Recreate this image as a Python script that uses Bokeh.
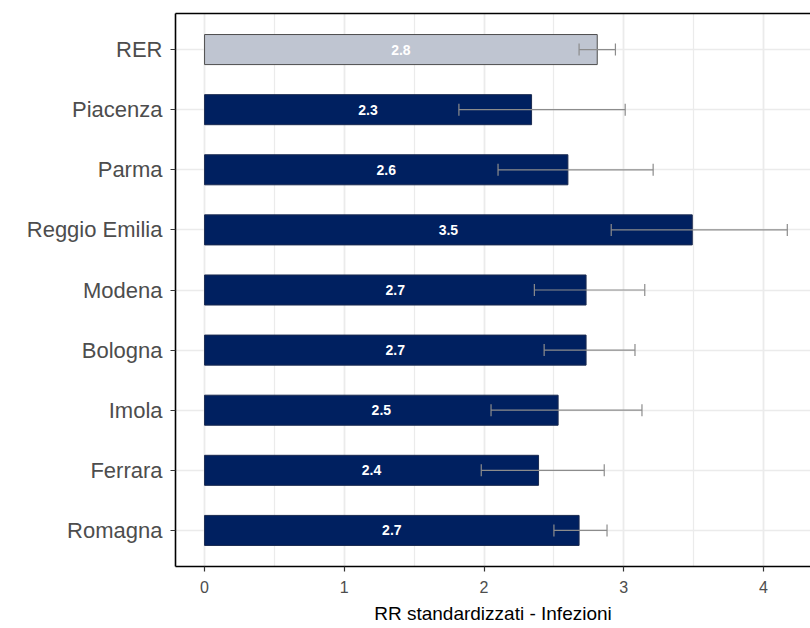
from bokeh.plotting import figure
from bokeh.models import (Range1d, FixedTicker, SingleIntervalTicker, LinearAxis,
                          ColumnDataSource)
from bokeh.embed import file_html
from bokeh.resources import INLINE

# ---- data ----
categories = ["RER", "Piacenza", "Parma", "Reggio Emilia", "Modena",
              "Bologna", "Imola", "Ferrara", "Romagna"]
rr = [2.81, 2.34, 2.60, 3.49, 2.73, 2.73, 2.53, 2.39, 2.68]
ci_low = [2.68, 1.82, 2.10, 2.91, 2.36, 2.43, 2.05, 1.98, 2.50]
ci_high = [2.94, 3.01, 3.21, 4.17, 3.15, 3.08, 3.13, 2.86, 2.88]
x_ticks = [0, 1, 2, 3, 4]
x_title = "RR standardizzati - Infezioni"

n = len(categories)
ys = [n - i for i in range(n)]
fills = ["#bfc5d1" if c == "RER" else "#002060" for c in categories]
lines = ["#4d4d4d" if c == "RER" else "#1a2a50" for c in categories]
labels = [f"{v:.1f}" for v in rr]
mids = [v / 2 for v in rr]

src = ColumnDataSource(dict(y=ys, rr=rr, lo=ci_low, hi=ci_high, fill=fills,
                            line=lines, lab=labels, mid=mids,
                            ylo=[y - 0.1 for y in ys], yhi=[y + 0.1 for y in ys]))

FONT = "Liberation Sans"

p = figure(width=810, height=628, output_backend="svg", toolbar_location=None,
           x_range=Range1d(-0.208, 4.336), y_range=Range1d(0.4, n + 0.6),
           min_border_left=175, min_border_top=13, min_border_bottom=62,
           min_border_right=0)
p.outline_line_color = None
p.background_fill_color = "white"
p.border_fill_color = "white"

p.hbar(y="y", left=0, right="rr", height=0.5, fill_color="fill",
       line_color="line", line_width=1, source=src)
p.segment(x0="lo", x1="hi", y0="y", y1="y", line_color="#8c8c8c",
          line_width=1.2, source=src)
p.segment(x0="lo", x1="lo", y0="ylo", y1="yhi", line_color="#8c8c8c",
          line_width=1.2, source=src)
p.segment(x0="hi", x1="hi", y0="ylo", y1="yhi", line_color="#8c8c8c",
          line_width=1.2, source=src)
p.text(x="mid", y="y", text="lab", source=src, text_color="white",
       text_font_size="14px", text_font_style="bold", text_align="center",
       text_baseline="middle", text_font={"value": FONT})

# x axis
xa = p.xaxis[0]
xa.ticker = FixedTicker(ticks=x_ticks)
xa.axis_label = x_title
xa.axis_label_text_font = FONT
xa.axis_label_text_font_size = "19px"
xa.axis_label_text_font_style = "normal"
xa.axis_label_text_color = "black"
xa.axis_label_standoff = 7
xa.major_label_text_font = FONT
xa.major_label_text_font_size = "16px"
xa.major_label_text_color = "#4d4d4d"
xa.major_label_standoff = 9
xa.axis_line_color = "black"
xa.axis_line_width = 1.6
xa.major_tick_line_color = "#333333"
xa.major_tick_line_width = 1.2
xa.major_tick_out = 5
xa.major_tick_in = 0
xa.minor_tick_line_color = None

# y axis
ya = p.yaxis[0]
ya.ticker = FixedTicker(ticks=ys)
ya.major_label_overrides = {y: c for y, c in zip(ys, categories)}
ya.major_label_text_font = FONT
ya.major_label_text_font_size = "22px"
ya.major_label_text_color = "#4d4d4d"
ya.major_label_standoff = 8
ya.axis_line_color = "black"
ya.axis_line_width = 1.6
ya.major_tick_line_color = "#333333"
ya.major_tick_line_width = 1.2
ya.major_tick_out = 5
ya.major_tick_in = 0
ya.minor_tick_line_color = None

# top border
top = LinearAxis(ticker=FixedTicker(ticks=[]), major_label_text_font_size="0px",
                 major_tick_line_color=None, minor_tick_line_color=None,
                 axis_line_color="black", axis_line_width=1.6)
p.add_layout(top, "above")

# grids
p.xgrid.ticker = SingleIntervalTicker(interval=1, num_minor_ticks=2)
p.xgrid.grid_line_color = "#ebebeb"
p.xgrid.grid_line_width = 1.6
p.xgrid.minor_grid_line_color = "#ebebeb"
p.xgrid.minor_grid_line_width = 1.2
p.ygrid.ticker = FixedTicker(ticks=ys)
p.ygrid.grid_line_color = "#ebebeb"
p.ygrid.grid_line_width = 1.6

open("out.html", "w").write(file_html(p, INLINE))
